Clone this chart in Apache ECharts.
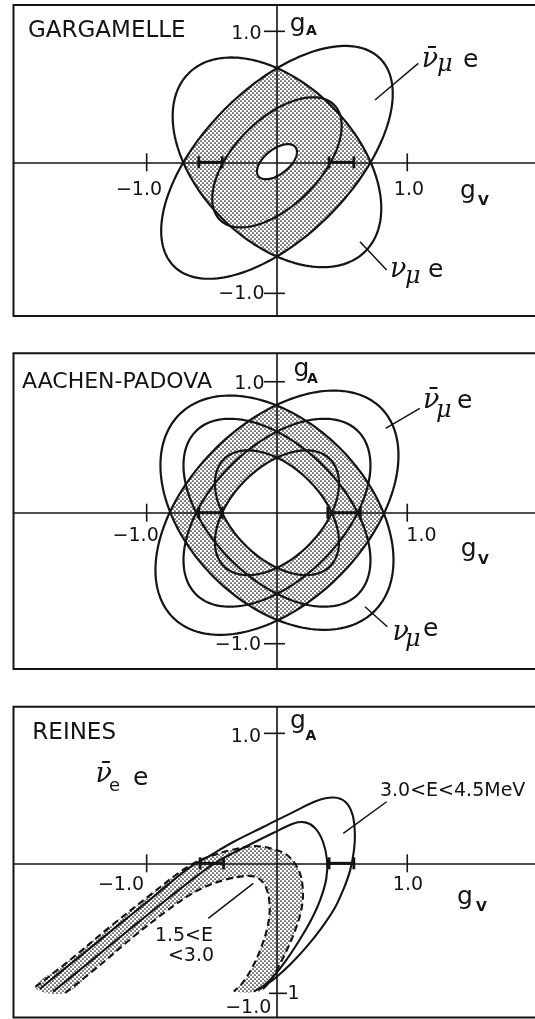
<!DOCTYPE html>
<html>
<head>
<meta charset="utf-8">
<title>Neutrino–electron scattering: g_V–g_A plane</title>
<script src="https://cdn.jsdelivr.net/npm/echarts@6/dist/echarts.min.js"></script>
<style>
html,body{margin:0;padding:0;background:#fff;}
#chart{width:535px;height:1019px;}
</style>
</head>
<body>
<div id="chart"></div>
<script>
// ---------- values in the (gV, gA) plane ----------
const tickValues = [-1, 1];

// contour ellipses: [centre gV, centre gA, semi-major, semi-minor, major-axis angle (deg)]
const gargamelleNuMuE    = [0, 0, 0.96, 0.60, -45];
const gargamelleNuMuBarE = [0, 0, 1.12, 0.57, 45];
const gargamelleMiddle   = [0, 0, 0.62, 0.33, 45];
const gargamelleCore     = [0, 0.005, 0.18, 0.095, 38];
const gargamelleBars     = [[-0.60, -0.42], [0.40, 0.59]];

// outer, central and inner contours
const aachenNuMuE    = [[0, 0, 1.06, 0.69, -45], [0, 0, 0.88, 0.505, -45], [0, 0, 0.577, 0.347, -45]];
const aachenNuMuBarE = [[0, 0, 1.13, 0.68, 45],  [0, 0, 0.88, 0.505, 45],  [0, 0, 0.577, 0.347, 45]];
const aachenBars     = [[-0.60, -0.42], [0.39, 0.64]];

// Reines anti-nu_e e: 3.0<E<4.5 MeV band (solid) and 1.5<E<3.0 band (dashed, shaded)
const reinesHighOuter = [[-1.821,-0.967],[-1.560,-0.754],[-1.253,-0.504],[-0.946,-0.256],[-0.691,-0.046],
  [-0.537,0.046],[-0.332,0.166],[-0.102,0.281],[0.128,0.396],[0.307,0.481],[0.435,0.506],[0.524,0.473],
  [0.581,0.371],[0.598,0.217],[0.588,0.080],[0.560,-0.060],[0.510,-0.200],[0.440,-0.350],[0.340,-0.500],
  [0.225,-0.645],[0.105,-0.775],[-0.010,-0.880],[-0.100,-0.945],[-0.179,-0.985]];
const reinesHighInner = [[-1.719,-0.987],[-1.458,-0.775],[-1.151,-0.524],[-0.844,-0.276],[-0.588,-0.077],
  [-0.435,0.026],[-0.230,0.133],[-0.026,0.235],[0.128,0.307],[0.217,0.315],[0.294,0.269],[0.353,0.166],
  [0.384,0.026],[0.379,-0.115],[0.332,-0.281],[0.256,-0.448],[0.166,-0.601],[0.064,-0.754],[-0.038,-0.882],
  [-0.141,-0.972]];
const reinesLowOuter = [[-1.854,-0.951],[-1.586,-0.742],[-1.279,-0.486],[-0.972,-0.243],[-0.742,-0.064],
  [-0.614,0.013],[-0.486,0.064],[-0.332,0.107],[-0.179,0.133],[-0.051,0.115],[0.077,0.064],[0.166,-0.051],
  [0.199,-0.205],[0.187,-0.358],[0.141,-0.512],[0.077,-0.665],[0.013,-0.793],[-0.064,-0.921],[-0.128,-0.985]];
const reinesLowInner = [[-1.624,-0.997],[-1.355,-0.780],[-1.100,-0.563],[-0.870,-0.384],[-0.691,-0.256],
  [-0.537,-0.174],[-0.384,-0.123],[-0.230,-0.097],[-0.141,-0.115],[-0.082,-0.192],[-0.056,-0.332],
  [-0.072,-0.486],[-0.123,-0.652],[-0.192,-0.806],[-0.269,-0.926],[-0.332,-0.985]];
const reinesBars = [[-0.59, -0.41], [0.40, 0.59]];

// ---------- drawing helpers ----------
const INK = '#141414';
const sans = px => px + 'px "DejaVu Sans"';
const subBold = 'bold 14px "DejaVu Sans"';
const greek = px => 'italic ' + px + 'px "DejaVu Serif"';
const NU = '\u03BD', NUBAR = '\u03BD\u0304', MU = '\u03BC';

// dotted screen used for allowed regions
const dotTile = document.createElement('canvas');
dotTile.width = 4; dotTile.height = 4;
(function () {
  const g = dotTile.getContext('2d');
  g.fillStyle = '#111';
  [[1, 1], [3, 3]].forEach(([x, y]) => { g.beginPath(); g.arc(x, y, 0.85, 0, Math.PI * 2); g.fill(); });
})();
const DOTS = { image: dotTile, repeat: 'repeat' };

function ellipse(e, n) {
  n = n || 180;
  const [cx, cy, a, b, deg] = e, t = deg * Math.PI / 180, c = Math.cos(t), s = Math.sin(t);
  const pts = [];
  for (let i = 0; i < n; i++) {
    const u = 2 * Math.PI * i / n, x = a * Math.cos(u), y = b * Math.sin(u);
    pts.push([cx + x * c - y * s, cy + x * s + y * c]);
  }
  return pts;
}
function signedArea(p) {
  let s = 0;
  for (let i = 0; i < p.length; i++) { const a = p[i], b = p[(i + 1) % p.length]; s += a[0] * b[1] - b[0] * a[1]; }
  return s / 2;
}
// region common to a polygon and a convex polygon
function intersect(subject, clip) {
  const sg = signedArea(clip) > 0 ? 1 : -1;
  let out = subject;
  for (let i = 0; i < clip.length && out.length; i++) {
    const A = clip[i], B = clip[(i + 1) % clip.length];
    const inside = p => sg * ((B[0] - A[0]) * (p[1] - A[1]) - (B[1] - A[1]) * (p[0] - A[0])) >= 0;
    const cut = (p, q) => {
      const a1 = B[1] - A[1], b1 = A[0] - B[0], c1 = a1 * A[0] + b1 * A[1];
      const a2 = q[1] - p[1], b2 = p[0] - q[0], c2 = a2 * p[0] + b2 * p[1];
      const d = a1 * b2 - a2 * b1;
      return [(b2 * c1 - b1 * c2) / d, (a1 * c2 - a2 * c1) / d];
    };
    const inp = out; out = [];
    for (let j = 0; j < inp.length; j++) {
      const P = inp[j], Q = inp[(j + 1) % inp.length], pin = inside(P), qin = inside(Q);
      if (pin) { out.push(P); if (!qin) out.push(cut(P, Q)); }
      else if (qin) out.push(cut(P, Q));
    }
  }
  return out;
}

const fillPoly = (C, pts, fill) => ({ type: 'polygon', shape: { points: pts.map(C) }, style: { fill: fill, stroke: null } });
const strokePoly = (C, pts, w) => ({ type: 'polygon', shape: { points: pts.map(C) }, style: { fill: null, stroke: INK, lineWidth: w || 2.2 } });
const curve = (C, pts, dash) => ({ type: 'polyline', shape: { points: pts.map(C), smooth: 0.35 },
  style: { fill: null, stroke: INK, lineWidth: 2.1, lineDash: dash || null } });
const label = (O, dx, dy, str, font, align) => ({ type: 'text', x: O[0] + dx, y: O[1] + dy,
  style: { text: str, font: font, fill: INK, align: align || 'left', verticalAlign: 'middle',
           textAlign: align || 'left', textVerticalAlign: 'middle' } });
const seg = (x1, y1, x2, y2, w) => ({ type: 'line', shape: { x1: x1, y1: y1, x2: x2, y2: y2 },
  style: { stroke: INK, lineWidth: w || 1.5 } });

function axisMarks(C, bars, yTickSpan) {
  const out = [];
  tickValues.forEach(v => {
    const px = C([v, 0]); out.push(seg(px[0], px[1] - 9, px[0], px[1] + 9, 1.6));
    const py = C([0, v]); const sp = yTickSpan(v); out.push(seg(py[0] + sp[0], py[1], py[0] + sp[1], py[1], 1.6));
  });
  bars.forEach(([a, b]) => {
    const A = C([a, 0]), B = C([b, 0]);
    out.push(seg(A[0], A[1], B[0], B[1], 3));
    out.push(seg(A[0], A[1] - 6, A[0], A[1] + 6, 2.8));
    out.push(seg(B[0], B[1] - 6, B[0], B[1] + 6, 2.8));
  });
  return out;
}

// ---------- layout of the three panels ----------
const UX = 130.3;
const XMIN = -2.022, XMAX = 2.21;
const panels = [
  { top: 5,     height: 311,   ymin: -1.173, ymax: 1.201 },
  { top: 353.3, height: 315.7, ymin: -1.193, ymax: 1.217 },
  { top: 706.7, height: 310.8, ymin: -1.186, ymax: 1.205 }
];

const grid = [], xAxis = [], yAxis = [], series = [];
panels.forEach((p, i) => {
  grid.push({ left: 13.5, top: p.top, width: (XMAX - XMIN) * UX, height: p.height, show: true,
    borderColor: INK, borderWidth: 2, backgroundColor: '#fff', containLabel: false, outerBoundsMode: 'none' });
  const ax = { gridIndex: i, type: 'value', z: 3, axisLine: { onZero: true, lineStyle: { color: INK, width: 1.6 } },
    axisTick: { show: false }, axisLabel: { show: false }, splitLine: { show: false } };
  xAxis.push(Object.assign({}, ax, { min: XMIN, max: XMAX }));
  yAxis.push(Object.assign({}, ax, { min: p.ymin, max: p.ymax }));
});

function layer(i, z, build) {
  series.push({ type: 'custom', coordinateSystem: 'cartesian2d', xAxisIndex: i, yAxisIndex: i, z: z,
    silent: true, animation: false, clip: false, data: [[0, 0]],
    renderItem: (params, api) => {
      const C = p => api.coord(p), O = api.coord([0, 0]);
      return { type: 'group', children: build(C, O) };
    } });
}

// ---- GARGAMELLE ----
layer(0, 2, C => [
  fillPoly(C, intersect(ellipse(gargamelleNuMuE), ellipse(gargamelleNuMuBarE)), DOTS),
  fillPoly(C, ellipse(gargamelleCore), '#fff')
]);
layer(0, 4, (C, O) => [
  strokePoly(C, ellipse(gargamelleNuMuE)), strokePoly(C, ellipse(gargamelleNuMuBarE)),
  strokePoly(C, ellipse(gargamelleMiddle)), strokePoly(C, ellipse(gargamelleCore)),
  seg(O[0] + 98, O[1] - 62.3, O[0] + 141.3, O[1] - 99), seg(O[0] + 83, O[1] + 79.4, O[0] + 109.7, O[1] + 107.7),
  label(O, -249, -131, 'GARGAMELLE', sans(23)),
  label(O, 12.7, -137.5, 'g', sans(25)), label(O, 29, -130.5, 'A', subBold),
  label(O, 183, 29, 'g', sans(25)), label(O, 201, 39.5, 'V', subBold),
  label(O, 144.7, -102.3, NUBAR, greek(27)), label(O, 160, -97.3, MU, greek(24)), label(O, 186, -101.8, 'e', sans(25)),
  label(O, 113, 107.7, NU, greek(27)), label(O, 128, 114.7, MU, greek(24)), label(O, 151, 107.7, 'e', sans(25)),
  label(O, -15.5, -128, '1.0', sans(19), 'right'), label(O, -12.5, 131.7, '\u22121.0', sans(19), 'right'),
  label(O, -138, 27.7, '\u22121.0', sans(19), 'center'), label(O, 132, 27.7, '1.0', sans(19), 'center')
]);
layer(0, 5, C => axisMarks(C, gargamelleBars, () => [-13, 8]));

// ---- AACHEN-PADOVA ----
layer(1, 2, C => [
  fillPoly(C, intersect(ellipse(aachenNuMuE[0]), ellipse(aachenNuMuBarE[0])), DOTS),
  fillPoly(C, intersect(ellipse(aachenNuMuE[2]), ellipse(aachenNuMuBarE[2])), '#fff')
]);
layer(1, 4, (C, O) => [].concat(
  aachenNuMuE.map(e => strokePoly(C, ellipse(e))),
  aachenNuMuBarE.map(e => strokePoly(C, ellipse(e))),
  [
    seg(O[0] + 108.7, O[1] - 84.4, O[0] + 142.8, O[1] - 104.4), seg(O[0] + 88, O[1] + 94, O[0] + 110.4, O[1] + 114),
    label(O, -255, -130.7, 'AACHEN-PADOVA', sans(22)),
    label(O, 16.5, -143, 'g', sans(25)), label(O, 30, -133, 'A', subBold),
    label(O, 183.7, 37, 'g', sans(25)), label(O, 201, 47.5, 'V', subBold),
    label(O, 146, -112.2, NUBAR, greek(27)), label(O, 159, -102.2, MU, greek(24)), label(O, 180, -111.2, 'e', sans(25)),
    label(O, 115.5, 119.8, NU, greek(27)), label(O, 128, 127.3, MU, greek(24)), label(O, 146, 116.8, 'e', sans(25)),
    label(O, -12.5, -128.7, '1.0', sans(19), 'right'), label(O, -16, 132.3, '\u22121.0', sans(19), 'right'),
    label(O, -141.3, 23.8, '\u22121.0', sans(19), 'center'), label(O, 144.5, 23.8, '1.0', sans(19), 'center')
  ]));
layer(1, 5, C => axisMarks(C, aachenBars, () => [-13, 8]));

// ---- REINES ----
layer(2, 2, C => [
  { type: 'polygon', shape: { points: reinesLowOuter.concat(reinesLowInner.slice().reverse()).map(C), smooth: 0.35 },
    style: { fill: DOTS, stroke: null } }
]);
layer(2, 4, (C, O) => [
  curve(C, reinesHighOuter), curve(C, reinesHighInner),
  curve(C, reinesLowOuter, [7, 4]), curve(C, reinesLowInner, [7, 4]),
  seg(O[0] + 109.7, O[1] - 61.6, O[0] + 66.3, O[1] - 30), seg(O[0] - 68.7, O[1] + 55, O[0] - 23.7, O[1] + 20),
  label(O, -244.6, -130.8, 'REINES', sans(23)),
  label(O, 13, -142, 'g', sans(25)), label(O, 28.5, -127, 'A', subBold),
  label(O, 180, 34.5, 'g', sans(25)), label(O, 199, 44.5, 'V', subBold),
  label(O, -181.4, -88.3, NUBAR, greek(27)), label(O, -168, -76.8, 'e', sans(18)), label(O, -144, -85.3, 'e', sans(25)),
  label(O, 103, -71.8, '3.0<E<4.5MeV', sans(19)),
  label(O, -93, 73.2, '1.5<E', sans(19), 'center'), label(O, -86, 93.2, '<3.0', sans(19), 'center'),
  label(O, -16, -126.3, '1.0', sans(19), 'right'), label(O, -28.7, 144.9, '\u22121.0', sans(19), 'center'),
  label(O, 16.7, 130.7, '1', sans(19), 'center'),
  label(O, -156, 21.5, '\u22121.0', sans(19), 'center'), label(O, 131, 22.2, '1.0', sans(19), 'center')
]);
layer(2, 5, C => axisMarks(C, reinesBars, v => (v < 0 ? [-8, 10] : [-13, 8])));

const chart = echarts.init(document.getElementById('chart'), null, { renderer: 'canvas', width: 535, height: 1019 });
chart.setOption({ animation: false, backgroundColor: '#fff', grid: grid, xAxis: xAxis, yAxis: yAxis, series: series });
</script>
</body>
</html>
